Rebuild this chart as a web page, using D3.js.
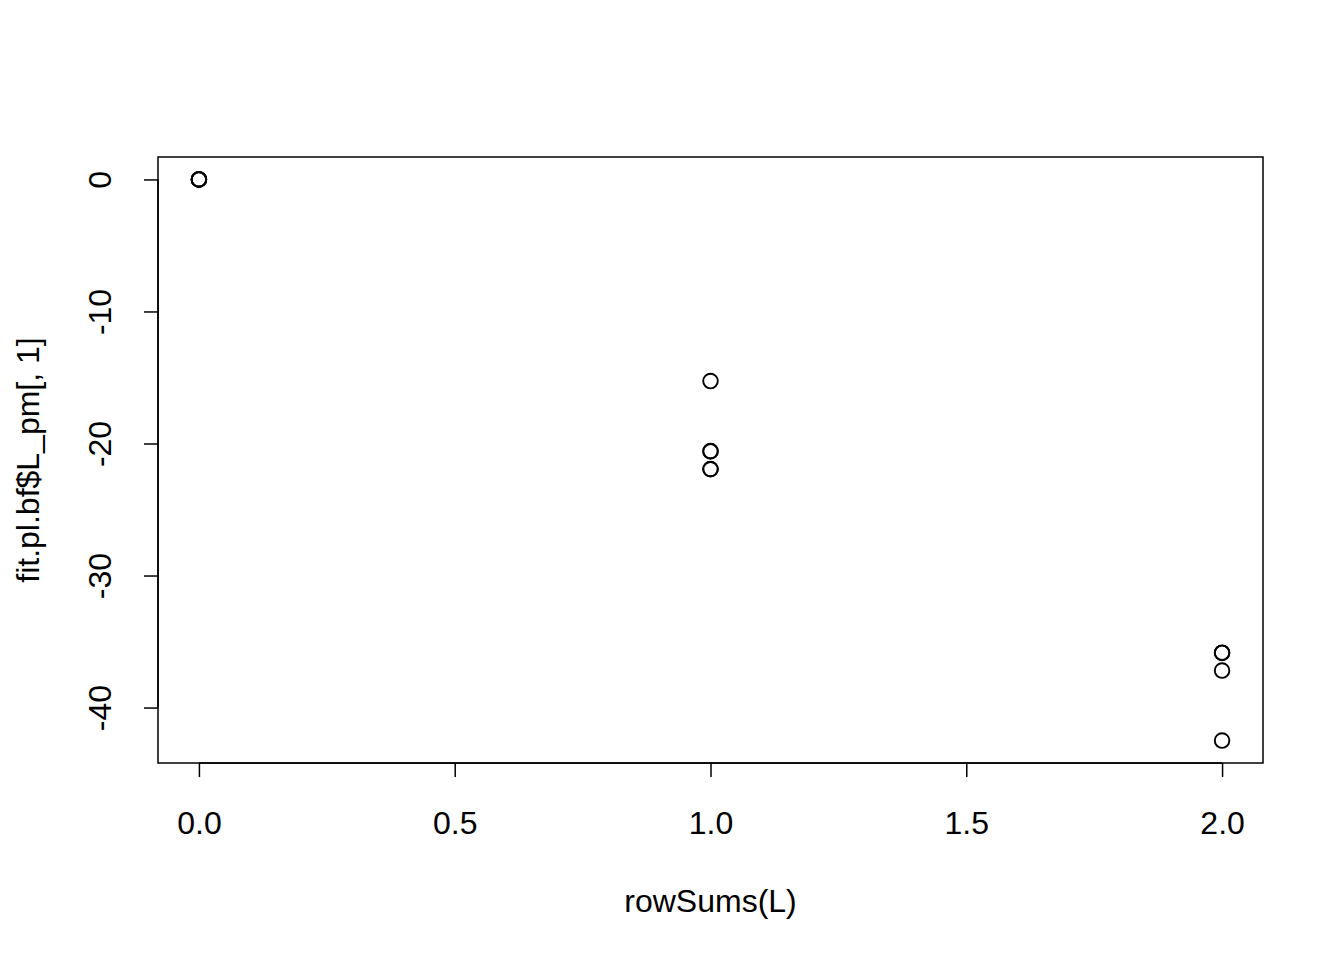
<!DOCTYPE html>
<html><head><meta charset="utf-8">
<script src="https://cdn.jsdelivr.net/npm/d3@7"></script>
<style>body{margin:0;background:#fff}svg{display:block}text{font-family:"Liberation Sans",Arial,sans-serif;fill:#000}</style>
</head><body>
<script>
const xValues = [0, 0, 0, 0, 1, 1, 1, 1, 1, 2, 2, 2, 2];
const yValues = [0, 0, 0, 0, -15.27, -20.57, -20.6, -21.93, -21.95, -35.84, -35.86, -37.2, -42.5];
const xTicks = [0, 0.5, 1, 1.5, 2];
const yTicks = [0, -10, -20, -30, -40];
const xLabel = "rowSums(L)";
const yLabel = "fit.pl.bf$L_pm[, 1]";

const W = 1344, H = 960;
const svg = d3.select("body").append("svg").attr("width", W).attr("height", H);
const L = 158, R = 1263, T = 157, B = 763;
const x = d3.scaleLinear().domain([-0.08, 2.08]).range([L, R]);
const y = d3.scaleLinear().domain([-44.2, 1.7]).range([B, T]);
const FS = 32;

svg.append("rect").attr("x", L).attr("y", T).attr("width", R - L).attr("height", B - T)
  .attr("fill", "none").attr("stroke", "#000").attr("stroke-width", 1.5);

const xAxis = svg.append("g").attr("transform", `translate(0,${B})`)
  .call(d3.axisBottom(x).tickValues(xTicks).tickFormat(d3.format(".1f")).tickSize(14));
xAxis.select(".domain").attr("d", `M${x(0)},0H${x(2)}`).attr("stroke-width", 1.5);
xAxis.selectAll(".tick line").attr("stroke-width", 1.5);
xAxis.selectAll("text").attr("font-size", FS).attr("font-family", "Liberation Sans, Arial, sans-serif")
  .attr("dy", null).attr("y", 60).attr("dominant-baseline", "central");

const yAxis = svg.append("g").attr("transform", `translate(${L},0)`)
  .call(d3.axisLeft(y).tickValues(yTicks).tickSize(14).tickFormat(d => String(d)));
yAxis.select(".domain").attr("d", `M0,${y(0)}V${y(-40)}`).attr("stroke-width", 1.5);
yAxis.selectAll(".tick line").attr("stroke-width", 1.5);
yAxis.selectAll("text")
  .attr("font-size", FS).attr("font-family", "Liberation Sans, Arial, sans-serif")
  .attr("x", null).attr("dy", null)
  .attr("text-anchor", "middle")
  .attr("transform", "translate(-58,0) rotate(-90)")
  .attr("dominant-baseline", "central");

svg.selectAll("circle.pt").data(xValues).enter().append("circle")
  .attr("class", "pt")
  .attr("cx", (d) => x(d)).attr("cy", (d, i) => y(yValues[i]))
  .attr("r", 7.3).attr("fill", "none").attr("stroke", "#000").attr("stroke-width", 1.9);

svg.append("text").attr("x", (L + R) / 2).attr("y", 901).attr("text-anchor", "middle")
  .attr("dominant-baseline", "central").attr("font-size", FS).text(xLabel);
svg.append("text").attr("transform", `translate(28,${(T + B) / 2}) rotate(-90)`).attr("text-anchor", "middle")
  .attr("dominant-baseline", "central").attr("font-size", FS).text(yLabel);
</script>
</body></html>
